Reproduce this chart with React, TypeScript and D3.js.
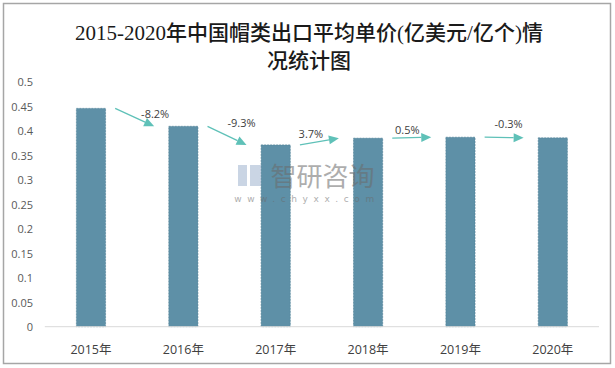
import React from "react";
import * as d3 from "d3";

const years = ["2015年", "2016年", "2017年", "2018年", "2019年", "2020年"];
const values = [0.4456, 0.409, 0.371, 0.3848, 0.3867, 0.3855];
const changes = ["-8.2%", "-9.3%", "3.7%", "0.5%", "-0.3%"];
const yTicks = [0, 0.05, 0.1, 0.15, 0.2, 0.25, 0.3, 0.35, 0.4, 0.45, 0.5];
const titleLines = ["2015-2020年中国帽类出口平均单价(亿美元/亿个)情", "况统计图"];

// layout offsets for the change labels (relative to gap center / arrow end)
const labelOffsets: [number, number][] = [
  [18, -13],
  [12, -22],
  [-11, -5],
  [-7, -8],
  [2, -14],
];

const W = 615;
const H = 368;
const BAR = "#5E90A7";
const ARROW = "#5FC1B8";
const TXT = "#404040";
const FONT = "'Open Sans', 'Noto Sans CJK SC', sans-serif";

export default function App() {
  const x = d3
    .scaleBand<string>()
    .domain(years)
    .range([44.8, 599])
    .paddingInner(0.684)
    .paddingOuter(0.342);
  const y = d3.scaleLinear().domain([0, 0.5]).range([326.7, 81.7]);
  const bw = x.bandwidth();

  const arrows = changes.map((c, i) => {
    const gc = (x(years[i])! + bw + x(years[i + 1])!) / 2;
    const x0 = gc - 22;
    const x1 = gc + 17;
    const y0 = y(values[i]);
    const y1 = y(values[i + 1]);
    const ang = Math.atan2(y1 - y0, x1 - x0);
    const hl = 10;
    const hw = 4.5;
    const bx = x1 - hl * Math.cos(ang);
    const by = y1 - hl * Math.sin(ang);
    const px = -Math.sin(ang) * hw;
    const py = Math.cos(ang) * hw;
    const head = `M${x1},${y1}L${bx + px},${by + py}L${bx - px},${by - py}Z`;
    return { c, x0, y0, bx, by, head, lx: gc + labelOffsets[i][0], ly: y1 + labelOffsets[i][1] };
  });

  return (
    <svg
      width={W}
      height={H}
      style={{ position: "absolute", left: 0, top: 0, background: "#fff" }}
    >
      <rect x={3.5} y={3.5} width={607} height={360} fill="#fff" stroke="#A6A6A6" strokeWidth={1.5} />
      {titleLines.map((t, i) => (
        <text
          key={i}
          x={309}
          y={33 + i * 28}
          textAnchor="middle"
          dominantBaseline="central"
          fontFamily="'Liberation Serif', 'Noto Sans CJK SC', serif"
          fontSize={21}
          fontWeight={500}
          fill="#1a1a1a"
        >
          {t}
        </text>
      ))}
      {yTicks.map((t) => (
        <text
          key={t}
          x={33}
          y={y(t)}
          textAnchor="end"
          dominantBaseline="central"
          fontFamily={FONT}
          fontSize={11}
          fill="#595959"
        >
          {String(t)}
        </text>
      ))}
      {years.map((yr, i) => (
        <rect
          key={yr}
          x={x(yr)}
          y={y(values[i])}
          width={bw}
          height={y(0) - y(values[i])}
          fill={BAR}
          stroke="#4F7F96"
          strokeWidth={0.6}
          strokeDasharray="2,1"
        />
      ))}
      <line x1={44.8} x2={599} y1={326.7} y2={326.7} stroke="#D9D9D9" strokeWidth={1} />
      {years.map((yr) => (
        <text
          key={yr}
          x={x(yr)! + bw / 2}
          y={349}
          textAnchor="middle"
          dominantBaseline="central"
          fontFamily={FONT}
          fontSize={12.5}
          fill={TXT}
        >
          {yr}
        </text>
      ))}
      {arrows.map((a, i) => (
        <g key={i}>
          <line x1={a.x0} y1={a.y0} x2={a.bx} y2={a.by} stroke={ARROW} strokeWidth={1.3} />
          <path d={a.head} fill={ARROW} />
          <text
            x={a.lx}
            y={a.ly}
            textAnchor="middle"
            dominantBaseline="central"
            fontFamily={FONT}
            fontSize={11}
            fill={TXT}
          >
            {a.c}
          </text>
        </g>
      ))}
      <g opacity={0.55}>
        <rect x={238} y={165} width={9} height={21} fill="#9FB3CF" />
        <rect x={250} y={165} width={11} height={21} fill="#9FB3CF" />
        <text
          x={322.5}
          y={174}
          textAnchor="middle"
          dominantBaseline="central"
          fontFamily="'Noto Sans CJK SC', sans-serif"
          fontSize={26}
          fill="#6b6b6b"
        >
          智研咨询
        </text>
        <text
          x={307}
          y={199}
          textAnchor="middle"
          dominantBaseline="central"
          fontFamily="'DejaVu Sans', sans-serif"
          fontSize={9}
          letterSpacing={5.6}
          fill="#6b6b6b"
        >
          www.chyxx.com
        </text>
      </g>
    </svg>
  );
}
